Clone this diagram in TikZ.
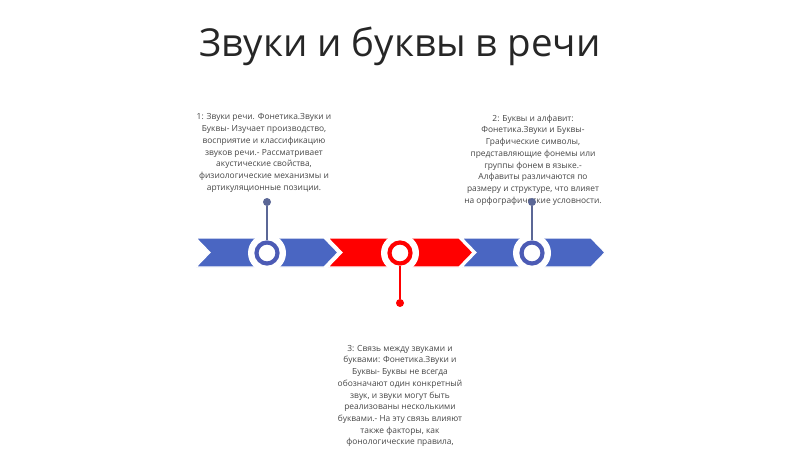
\documentclass[tikz,border=0pt]{standalone}
\usepackage{fontspec}
\setmainfont{Open Sans}
\begin{document}
\begin{tikzpicture}[x=1pt,y=-1pt,
  chev/.style={draw=white,line width=1.2pt},
  halo/.style={circle,fill=white,minimum size=38pt,inner sep=0pt},
  ring/.style={circle,draw=#1,line width=4.2pt,fill=white,minimum size=21pt,inner sep=0pt},
  dotn/.style={circle,fill=#1,minimum size=8pt,inner sep=0pt},
  stem/.style={draw=#1,line width=1.4pt},
  body/.style={text=black!72,font=\fontsize{8.4}{11.7}\selectfont,align=center,inner sep=0pt},
]
\definecolor{cblue}{HTML}{4A66C2}
\definecolor{rblue}{HTML}{4C5BB5}
\definecolor{sblue}{HTML}{5B6796}
\definecolor{cred}{HTML}{FF0000}
\useasboundingbox (0,0) rectangle (800,449);
\fill[white] (0,0) rectangle (800,449);
% title
\node[text=black!85,font=\fontsize{38.5}{44}\selectfont] (title) at (400,46) {Звуки и буквы в речи};
% chevrons
\fill[cblue,chev] (196,238) -- (324,238) -- (338,252.5) -- (324,267) -- (196,267) -- (210,252.5) -- cycle;
\fill[cred,chev] (328,238) -- (459,238) -- (473,252.5) -- (459,267) -- (328,267) -- (342,252.5) -- cycle;
\fill[cblue,chev] (462,238) -- (591,238) -- (605,252.5) -- (591,267) -- (462,267) -- (476,252.5) -- cycle;
% halos and rings
\node[halo] (h1) at (267,253) {};
\node[halo] (h2) at (400,253) {};
\node[halo] (h3) at (532,253) {};
% texts
\node[body] (t1) at (264,153) {1: Звуки речи. Фонетика.Звуки и\\Буквы- Изучает производство,\\восприятие и классификацию\\звуков речи.- Рассматривает\\акустические свойства,\\физиологические механизмы и\\артикуляционные позиции.};
\node[body] (t2) at (533,160) {2: Буквы и алфавит:\\Фонетика.Звуки и Буквы-\\Графические символы,\\представляющие фонемы или\\группы фонем в языке.-\\Алфавиты различаются по\\размеру и структуре, что влияет\\на орфографические условности.};
\node[body,anchor=north] (t3) at (400,345) {3: Связь между звуками и\\буквами: Фонетика.Звуки и\\Буквы- Буквы не всегда\\обозначают один конкретный\\звук, и звуки могут быть\\реализованы несколькими\\буквами.- На эту связь влияют\\также факторы, как\\фонологические правила,};
% dots
\node[dotn=sblue] (d1) at (267,202) {};
\node[dotn=sblue] (d3) at (532,202) {};
\node[dotn=cred] (d2) at (400,303) {};
\node[ring=rblue] (r1) at (267,253) {};
\node[ring=cred] (r2) at (400,253) {};
\node[ring=rblue] (r3) at (532,253) {};
% stems
\draw[stem=sblue] (d1) -- (r1);
\draw[stem=sblue] (d3) -- (r3);
\draw[stem=cred] (d2) -- (r2);
\end{tikzpicture}
\end{document}
